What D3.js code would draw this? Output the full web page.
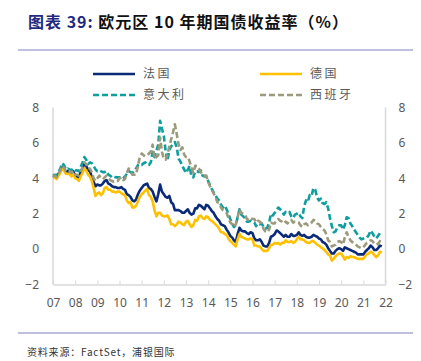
<!DOCTYPE html>
<html>
<head>
<meta charset="utf-8">
<script src="https://cdn.jsdelivr.net/npm/d3@7"></script>
<style>
  body { margin: 0; background: #fff; }
  svg { display: block; }
</style>
</head>
<body>
<div class="chart"></div>
<script>
const width = 421;
const height = 361;

// monthly 10y yields, Jan 2007 .. Nov 2021
const france = [
  4.05, 4.10, 4.05, 4.25, 4.40, 4.65, 4.55, 4.35, 4.40, 4.35, 4.25, 4.40,
  4.15, 4.10, 4.05, 4.35, 4.55, 4.85, 4.70, 4.45, 4.40, 4.05, 3.80, 3.55,
  3.65, 3.60, 3.60, 3.70, 3.85, 3.90, 3.70, 3.65, 3.55, 3.50, 3.50, 3.45,
  3.45, 3.50, 3.40, 3.35, 3.10, 3.05, 2.95, 2.75, 2.70, 2.80, 3.10, 3.30,
  3.45, 3.60, 3.65, 3.70, 3.45, 3.40, 3.25, 2.95, 2.70, 3.10, 3.65, 3.25,
  3.10, 2.95, 2.90, 3.00, 2.65, 2.55, 2.20, 2.20, 2.20, 2.15, 2.05, 2.05,
  2.15, 2.25, 2.05, 1.95, 2.00, 2.30, 2.30, 2.50, 2.45, 2.35, 2.25, 2.50,
  2.45, 2.30, 2.15, 2.05, 1.85, 1.70, 1.60, 1.40, 1.35, 1.30, 1.10, 0.95,
  0.75, 0.65, 0.50, 0.40, 0.85, 1.20, 1.05, 1.00, 1.00, 0.90, 0.85, 0.95,
  0.90, 0.60, 0.50, 0.50, 0.55, 0.40, 0.20, 0.15, 0.15, 0.35, 0.70, 0.75,
  0.85, 1.05, 1.00, 0.90, 0.80, 0.70, 0.80, 0.70, 0.70, 0.85, 0.75, 0.75,
  0.80, 0.95, 0.80, 0.75, 0.80, 0.70, 0.65, 0.65, 0.70, 0.80, 0.75, 0.70,
  0.60, 0.55, 0.40, 0.35, 0.25, 0.05, -0.10, -0.25, -0.25, -0.10, 0.00, 0.05,
  0.00, -0.10, 0.10, 0.05, 0.00, -0.05, -0.10, -0.15, -0.20, -0.30, -0.30, -0.30,
  -0.30, -0.15, -0.05, 0.05, 0.20, 0.10, -0.05, -0.05, 0.05, 0.20, 0.15
];
const germany = [
  4.00, 4.05, 3.95, 4.15, 4.30, 4.55, 4.45, 4.25, 4.25, 4.25, 4.10, 4.25,
  4.00, 3.95, 3.85, 4.10, 4.30, 4.55, 4.45, 4.20, 4.10, 3.85, 3.45, 3.00,
  3.15, 3.20, 3.05, 3.15, 3.45, 3.50, 3.35, 3.35, 3.25, 3.25, 3.20, 3.25,
  3.25, 3.15, 3.10, 3.05, 2.75, 2.60, 2.65, 2.35, 2.35, 2.45, 2.70, 2.95,
  3.10, 3.20, 3.30, 3.40, 3.05, 2.95, 2.70, 2.20, 1.85, 2.05, 2.05, 1.90,
  1.85, 1.85, 1.90, 1.70, 1.40, 1.40, 1.30, 1.40, 1.55, 1.50, 1.40, 1.35,
  1.55, 1.60, 1.40, 1.25, 1.35, 1.65, 1.60, 1.85, 1.90, 1.75, 1.70, 1.85,
  1.80, 1.65, 1.60, 1.50, 1.40, 1.30, 1.15, 0.95, 0.95, 0.85, 0.80, 0.60,
  0.45, 0.35, 0.25, 0.15, 0.55, 0.85, 0.70, 0.65, 0.60, 0.55, 0.55, 0.60,
  0.55, 0.20, 0.20, 0.15, 0.15, 0.00, -0.10, -0.10, -0.10, 0.05, 0.25, 0.25,
  0.35, 0.30, 0.35, 0.25, 0.35, 0.35, 0.50, 0.40, 0.40, 0.45, 0.35, 0.40,
  0.55, 0.70, 0.55, 0.55, 0.50, 0.40, 0.35, 0.35, 0.45, 0.45, 0.35, 0.25,
  0.20, 0.10, 0.05, -0.05, -0.15, -0.30, -0.35, -0.65, -0.55, -0.40, -0.30, -0.25,
  -0.25, -0.40, -0.60, -0.45, -0.50, -0.40, -0.45, -0.45, -0.50, -0.55, -0.55, -0.55,
  -0.55, -0.40, -0.30, -0.25, -0.15, -0.20, -0.35, -0.45, -0.35, -0.15, -0.20
];
const italy = [
  4.15, 4.20, 4.15, 4.35, 4.55, 4.85, 4.75, 4.50, 4.55, 4.50, 4.45, 4.55,
  4.45, 4.45, 4.40, 4.65, 4.90, 5.20, 5.05, 4.80, 4.90, 4.85, 4.70, 4.50,
  4.40, 4.45, 4.40, 4.35, 4.35, 4.40, 4.20, 4.15, 4.05, 4.10, 4.05, 4.05,
  4.05, 4.05, 4.00, 4.10, 4.25, 4.40, 4.35, 4.30, 4.40, 4.55, 4.75, 4.80,
  4.75, 4.85, 4.90, 4.80, 4.75, 4.90, 5.50, 5.20, 5.55, 5.90, 7.25, 6.80,
  6.40, 5.50, 5.00, 5.60, 5.80, 5.95, 6.05, 5.75, 5.10, 4.95, 4.70, 4.50,
  4.30, 4.50, 4.70, 4.10, 4.05, 4.40, 4.40, 4.35, 4.45, 4.15, 4.10, 4.10,
  3.85, 3.60, 3.40, 3.20, 3.05, 2.85, 2.75, 2.50, 2.35, 2.45, 2.25, 1.95,
  1.70, 1.50, 1.25, 1.35, 1.80, 2.25, 1.95, 1.85, 1.75, 1.55, 1.55, 1.60,
  1.55, 1.50, 1.30, 1.45, 1.40, 1.45, 1.25, 1.15, 1.20, 1.50, 2.00, 1.90,
  2.05, 2.20, 2.35, 2.25, 2.15, 1.95, 2.10, 2.05, 2.10, 1.85, 1.75, 1.95,
  2.00, 2.05, 1.85, 1.75, 2.40, 2.75, 2.65, 3.05, 3.00, 3.45, 3.35, 2.90,
  2.75, 2.85, 2.60, 2.55, 2.65, 2.30, 1.75, 1.30, 0.95, 1.00, 1.25, 1.35,
  1.35, 1.10, 1.35, 1.80, 1.75, 1.45, 1.30, 1.10, 0.95, 0.80, 0.65, 0.55,
  0.60, 0.65, 0.65, 0.80, 1.05, 0.90, 0.70, 0.60, 0.75, 0.90, 0.95
];
const spain = [
  4.10, 4.15, 4.05, 4.25, 4.45, 4.70, 4.60, 4.40, 4.45, 4.40, 4.30, 4.40,
  4.20, 4.20, 4.15, 4.40, 4.60, 4.90, 4.80, 4.55, 4.55, 4.35, 4.00, 3.85,
  4.00, 4.15, 4.05, 3.95, 4.05, 4.15, 4.00, 3.90, 3.85, 3.80, 3.85, 3.85,
  4.00, 4.05, 3.90, 3.95, 4.30, 4.55, 4.40, 4.20, 4.20, 4.20, 4.70, 5.20,
  5.40, 5.30, 5.25, 5.30, 5.40, 5.50, 5.90, 5.10, 5.20, 5.30, 6.30, 5.50,
  5.10, 5.05, 5.35, 5.80, 6.20, 6.60, 7.05, 6.50, 5.90, 5.60, 5.75, 5.35,
  5.20, 5.20, 4.95, 4.60, 4.30, 4.70, 4.70, 4.55, 4.35, 4.20, 4.15, 4.15,
  3.80, 3.55, 3.35, 3.15, 2.95, 2.65, 2.60, 2.35, 2.20, 2.15, 2.05, 1.75,
  1.50, 1.40, 1.25, 1.40, 1.80, 2.25, 2.05, 2.00, 1.95, 1.70, 1.65, 1.75,
  1.70, 1.70, 1.50, 1.60, 1.55, 1.45, 1.15, 1.00, 0.95, 1.10, 1.50, 1.45,
  1.45, 1.65, 1.70, 1.60, 1.55, 1.45, 1.55, 1.45, 1.60, 1.65, 1.50, 1.55,
  1.55, 1.50, 1.35, 1.25, 1.40, 1.45, 1.35, 1.40, 1.50, 1.65, 1.60, 1.45,
  1.40, 1.25, 1.15, 1.05, 0.85, 0.50, 0.40, 0.15, 0.20, 0.25, 0.40, 0.45,
  0.40, 0.25, 0.65, 0.95, 0.70, 0.50, 0.40, 0.35, 0.25, 0.15, 0.10, 0.05,
  0.10, 0.25, 0.35, 0.40, 0.50, 0.45, 0.30, 0.25, 0.30, 0.45, 0.40
];

const seriesNames = ["法国", "德国", "意大利", "西班牙"];
const yTicks = [-2, 0, 2, 4, 6, 8];
const xYears = d3.range(2007, 2023);

const months = france.map((v, i) => new Date(2007, i, 1));

const series = [
  { name: seriesNames[0], values: france, color: "#0b2a78", dash: null },
  { name: seriesNames[1], values: germany, color: "#ffc000", dash: null },
  { name: seriesNames[2], values: italy, color: "#0e9e9e", dash: "6,3" },
  { name: seriesNames[3], values: spain, color: "#9b9a7c", dash: "6,3" }
];

const svg = d3.select(".chart")
  .append("svg")
  .attr("width", width)
  .attr("height", height);

const font = "'Noto Sans CJK SC', 'Noto Sans', sans-serif";

// title
const title = svg.append("text")
  .attr("x", 28)
  .attr("y", 28)
  .style("font-family", font)
  .style("font-size", "16px")
  .style("font-weight", "bold")
  .style("letter-spacing", "1px");
title.append("tspan").attr("fill", "#1f2a80").text("图表 39: ");
title.append("tspan").attr("fill", "#111").text("欧元区 10 年期国债收益率（%）");

svg.append("line")
  .attr("x1", 18).attr("x2", 413)
  .attr("y1", 50).attr("y2", 50)
  .attr("stroke", "#8080c0").attr("stroke-width", 1.2);

svg.append("line")
  .attr("x1", 18).attr("x2", 413)
  .attr("y1", 333).attr("y2", 333)
  .attr("stroke", "#8080c0").attr("stroke-width", 1.2);

svg.append("text")
  .attr("x", 27)
  .attr("y", 356)
  .style("font-family", font)
  .style("font-size", "10px")
  .style("letter-spacing", "0.8px")
  .attr("fill", "#333")
  .text("资料来源：FactSet，浦银国际");

// scales
const x = d3.scaleTime()
  .domain([new Date(2007, 0, 1), new Date(2022, 0, 1)])
  .range([53, 385.5]);
const y = d3.scaleLinear()
  .domain([-2, 8])
  .range([284.5, 107.5]);

// frame lines
svg.append("line")
  .attr("x1", 53).attr("x2", 53)
  .attr("y1", y(8)).attr("y2", y(-2))
  .attr("stroke", "#d9d9d9").attr("stroke-width", 1.5);
svg.append("line")
  .attr("x1", 385.5).attr("x2", 385.5)
  .attr("y1", y(8)).attr("y2", y(-2))
  .attr("stroke", "#d9d9d9").attr("stroke-width", 1.5);

const xAxis = d3.axisBottom(x)
  .tickValues(xYears.map(yr => new Date(yr, 0, 1)))
  .tickFormat(d3.timeFormat("%y"))
  .tickSizeInner(-4)
  .tickSizeOuter(0)
  .tickPadding(14);

const gx = svg.append("g")
  .attr("transform", `translate(0,${y(-2)})`)
  .call(xAxis);
gx.select(".domain").attr("stroke", "#d9d9d9").attr("stroke-width", 1.5);
gx.selectAll(".tick line").attr("stroke", "#d9d9d9");
gx.selectAll("text")
  .style("font-family", "'Noto Sans', sans-serif")
  .style("font-size", "12px")
  .attr("fill", "#595959");

const yLeft = d3.axisLeft(y).tickValues(yTicks).tickSize(0).tickPadding(14);
const gyl = svg.append("g")
  .attr("transform", "translate(53,0)")
  .call(yLeft);
gyl.select(".domain").remove();
gyl.selectAll("text")
  .style("font-family", "'Noto Sans', sans-serif")
  .style("font-size", "12px")
  .attr("fill", "#595959");

const yRight = d3.axisRight(y).tickValues(yTicks).tickSize(0).tickPadding(13);
const gyr = svg.append("g")
  .attr("transform", "translate(385.5,0)")
  .call(yRight);
gyr.select(".domain").remove();
gyr.selectAll("text")
  .style("font-family", "'Noto Sans', sans-serif")
  .style("font-size", "12px")
  .attr("fill", "#595959");

// lines
const line = d3.line()
  .x((d, i) => x(months[i]))
  .y(d => y(d));

svg.selectAll(".series")
  .data(series)
  .enter()
  .append("path")
  .attr("class", "series")
  .attr("d", d => line(d.values))
  .attr("fill", "none")
  .attr("stroke", d => d.color)
  .attr("stroke-width", 2.6)
  .attr("stroke-linejoin", "round")
  .attr("stroke-dasharray", d => d.dash);

// legend
const legendPos = [
  { x: 93, y: 74 }, { x: 260, y: 74 },
  { x: 93, y: 95 }, { x: 260, y: 95 }
];
const legend = svg.selectAll(".legend")
  .data(series)
  .enter()
  .append("g")
  .attr("class", "legend")
  .attr("transform", (d, i) => `translate(${legendPos[i].x},${legendPos[i].y})`);

legend.append("line")
  .attr("x1", 0).attr("x2", 42)
  .attr("stroke", d => d.color)
  .attr("stroke-width", 2.6)
  .attr("stroke-dasharray", d => d.dash);

legend.append("text")
  .attr("x", 50)
  .attr("dy", "0.35em")
  .style("font-family", font)
  .style("font-size", "12px")
  .style("letter-spacing", "2.5px")
  .attr("fill", "#595959")
  .text(d => d.name);
</script>
</body>
</html>
